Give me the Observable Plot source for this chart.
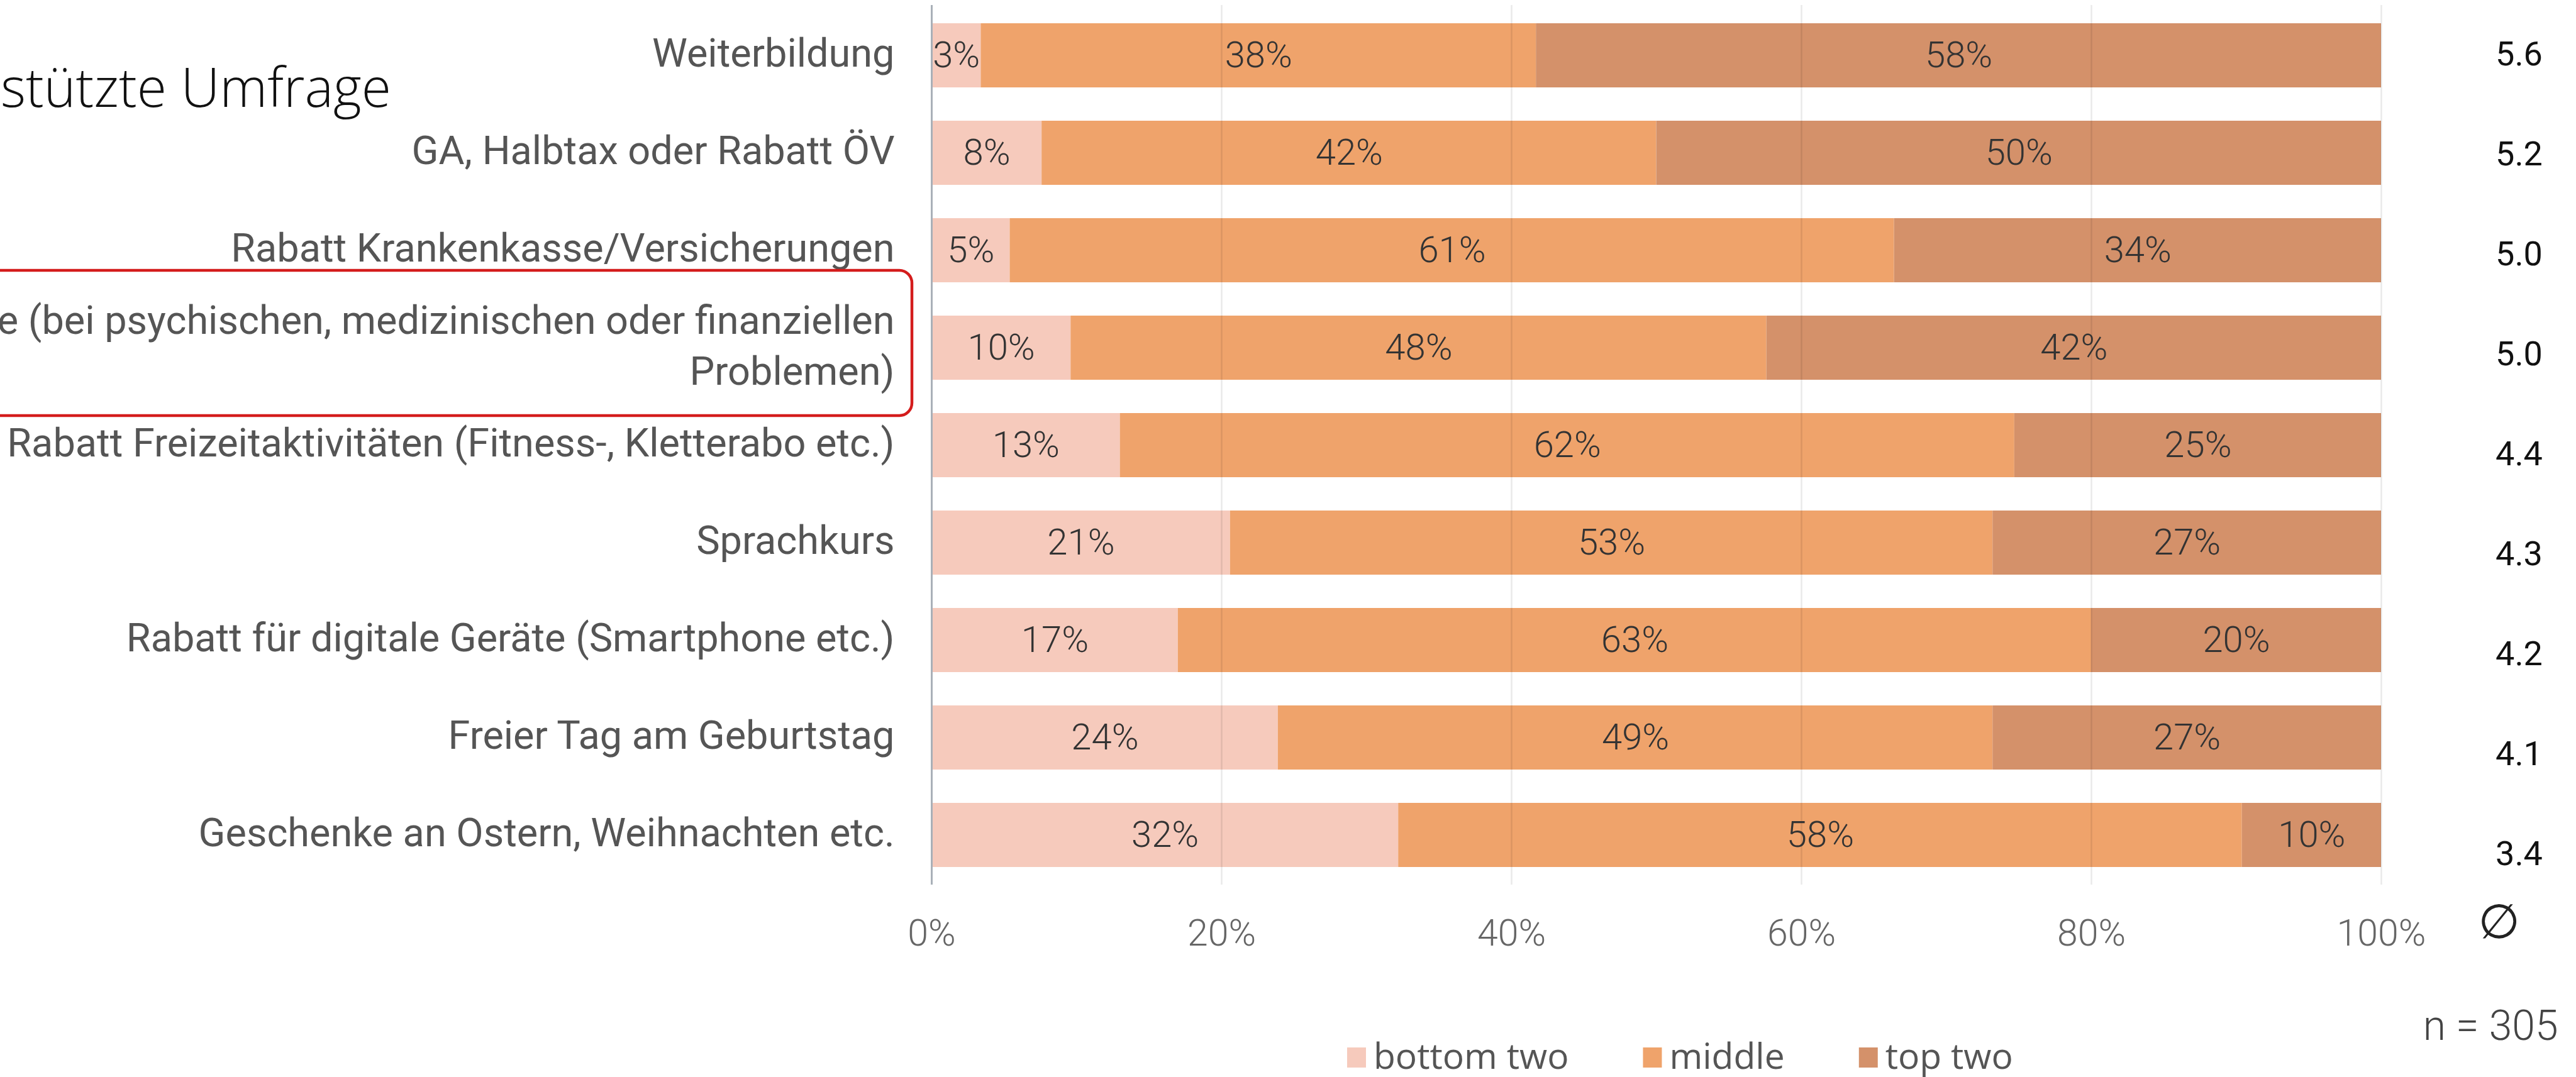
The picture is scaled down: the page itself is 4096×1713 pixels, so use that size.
<!DOCTYPE html>
<html><head><meta charset="utf-8">
<script src="https://cdn.jsdelivr.net/npm/d3@7"></script>
<script src="https://cdn.jsdelivr.net/npm/@observablehq/plot@0.6"></script>
<style>
html,body{margin:0;padding:0;background:#fff;}
#wrap{position:relative;width:4096px;height:1713px;overflow:hidden;background:#fff;}
#wrap > svg{position:absolute;left:0;top:0;}
</style></head><body><div id="wrap"></div>
<script>
// ---- data ----
const categories = [
  "Weiterbildung",
  "GA, Halbtax oder Rabatt ÖV",
  "Rabatt Krankenkasse/Versicherungen",
  "Beratungsstelle",
  "Rabatt Freizeitaktivitäten",
  "Sprachkurs",
  "Rabatt für digitale Geräte",
  "Freier Tag am Geburtstag",
  "Geschenke an Ostern, Weihnachten etc."
];
const categoryLabels = [
  "Weiterbildung",
  "GA, Halbtax oder Rabatt ÖV",
  "Rabatt Krankenkasse/Versicherungen",
  "Beratungsstelle (bei psychischen, medizinischen oder finanziellen\nProblemen)",
  "Rabatt Freizeitaktivitäten (Fitness-, Kletterabo etc.)",
  "Sprachkurs",
  "Rabatt für digitale Geräte (Smartphone etc.)",
  "Freier Tag am Geburtstag",
  "Geschenke an Ostern, Weihnachten etc."
];
const groups = ["bottom two", "middle", "top two"];
const bottomTwo = [3.4, 7.6, 5.4, 9.6, 13.0, 20.6, 17.0, 23.9, 32.2];
const middle    = [38.3, 42.4, 61.0, 48.0, 61.7, 52.6, 63.0, 49.3, 58.2];
const topTwo    = [58.3, 50.0, 33.6, 42.4, 25.3, 26.8, 20.0, 26.8, 9.6];
const averages  = ["5.6", "5.2", "5.0", "5.0", "4.4", "4.3", "4.2", "4.1", "3.4"];
const xTicks = [0, 20, 40, 60, 80, 100];
const colors = ["#f6cabc", "#efa36b", "#d4916a"];
const highlighted = "Beratungsstelle";
const sampleNote = "n = 305";
const titleText = "Gestützte Umfrage";

// ---- build tables ----
const series = [bottomTwo, middle, topTwo];
const rows = [];
categories.forEach((c, i) => groups.forEach((g, j) => rows.push({cat: c, group: g, value: series[j][i]})));
const catRows = categories.map((c, i) => ({cat: c, label: categoryLabels[i], avg: averages[i]}));

const W = 4096, H = 1713;
const wrap = document.getElementById("wrap");

const main = Plot.plot({
  width: W, height: H,
  marginLeft: 1481, marginRight: 310, marginTop: 8, marginBottom: 306,
  x: {domain: [0, 100], axis: null},
  y: {domain: categories, axis: null, paddingInner: 0.344, paddingOuter: 0.1625},
  color: {domain: groups, range: colors},
  style: {background: "transparent"},
  marks: [
    Plot.barX(rows, Plot.stackX({y: "cat", x: "value", fill: "group"})),
    Plot.ruleX(xTicks.slice(1), {stroke: "#000", strokeOpacity: 0.085, strokeWidth: 2.5}),
    Plot.ruleX([0], {stroke: "#a9b0b8", strokeWidth: 3}),
    Plot.text(rows, Plot.stackX({y: "cat", x: "value", text: d => Math.round(d.value) + "%",
      fontSize: 58, fontWeight: 300, fontFamily: "Roboto", fill: "#333"})),
    Plot.text(catRows, {y: "cat", text: "label", frameAnchor: "left", textAnchor: "end", lineAnchor: "middle",
      dx: -59, dy: -8, lineHeight: 1.28, fontSize: 63, fontFamily: "Roboto", fill: "#555"}),
    Plot.text(xTicks, {x: d => d, text: d => d + "%", frameAnchor: "bottom", lineAnchor: "middle",
      dy: 78, fontSize: 59, fontWeight: 300, fontFamily: "Roboto", fill: "#666"})
  ]
});
wrap.appendChild(main);

const avgPlot = Plot.plot({
  width: W, height: H,
  marginLeft: 3914, marginRight: 0, marginTop: 6.5, marginBottom: 275.5,
  y: {type: "band", domain: categories, axis: null, padding: 0},
  style: {background: "transparent"},
  marks: [
    Plot.text(catRows, {y: "cat", text: "avg", frameAnchor: "middle", textAnchor: "middle", lineAnchor: "middle",
      fontSize: 54, fontFamily: "Roboto", fill: "#111"}),
    Plot.text(["∅"], {frameAnchor: "bottom", textAnchor: "middle", lineAnchor: "middle", dx: -32, dy: 30,
      fontSize: 76, fontFamily: "DejaVu Sans", fill: "#222"}),
    Plot.text([sampleNote], {frameAnchor: "bottom-right", textAnchor: "end", lineAnchor: "middle", dx: -29, dy: 195,
      fontSize: 66, fontWeight: 300, fontFamily: "Roboto", fill: "#444"})
  ]
});
wrap.appendChild(avgPlot);

// ---- annotations on the main svg ----
const svg = d3.select(main);
const ys = main.scale("y"), xs = main.scale("x"), cs = main.scale("color");
const x0 = xs.apply(0);
const bw = ys.bandwidth;
const cy = ys.apply(highlighted) + bw / 2;
svg.append("rect")
  .attr("x", -30).attr("y", cy - 123)
  .attr("width", x0 - 31 + 30).attr("height", 231)
  .attr("rx", 20).attr("ry", 20)
  .attr("fill", "none").attr("stroke", "#d41c1c").attr("stroke-width", 4.5);

svg.append("text")
  .attr("x", 622).attr("y", 170)
  .attr("text-anchor", "end")
  .attr("font-family", "Open Sans").attr("font-weight", 300).attr("font-size", 86).attr("fill", "#111")
  .text(titleText);

// legend
const lg = svg.append("g").attr("font-family", "Open Sans").attr("font-size", 57).attr("fill", "#555")
  .attr("text-anchor", "start");
let lx = 2142;
groups.forEach(g => {
  lg.append("rect").attr("x", lx).attr("y", 1666).attr("width", 30).attr("height", 32).attr("fill", cs.apply(g));
  const t = lg.append("text").attr("x", lx + 42).attr("y", 1700).attr("text-anchor", "start").text(g);
  const w = t.node().getComputedTextLength();
  lx = lx + 42 + w + 118;
});
</script></body></html>
